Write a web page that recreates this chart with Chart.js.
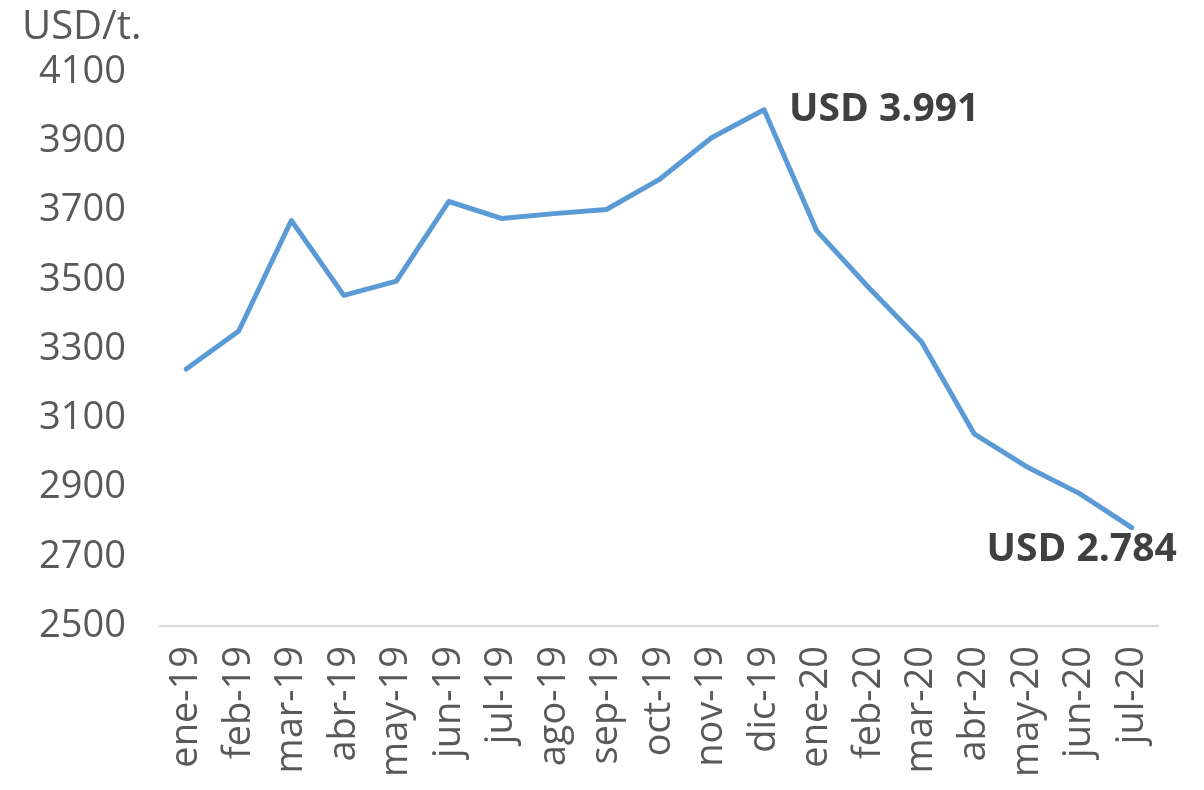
<!DOCTYPE html>
<html>
<head>
<meta charset="utf-8">
<script src="https://cdn.jsdelivr.net/npm/chart.js@4/dist/chart.umd.min.js"></script>
<style>
html,body{margin:0;padding:0;background:#fff;}
#c{display:block;}
</style>
</head>
<body>
<canvas id="c" width="1204" height="790"></canvas>
<script>
const categories = ["ene-19","feb-19","mar-19","abr-19","may-19","jun-19","jul-19","ago-19","sep-19","oct-19","nov-19","dic-19","ene-20","feb-20","mar-20","abr-20","may-20","jun-20","jul-20"];
const prices = [3242,3352,3671,3455,3496,3726,3677,3691,3703,3789,3910,3991,3642,3476,3320,3055,2960,2883,2784];
const yTicks = [2500,2700,2900,3100,3300,3500,3700,3900,4100];
const unitLabel = "USD/t.";
const annotations = [
  {index: 11, text: "USD 3.991", dx: 25, dy: 0, align: "left"},
  {index: 18, text: "USD 2.784", dx: 45, dy: 22, align: "right"}
];

const FONT = "'Open Sans', sans-serif";

const labelPlugin = {
  id: 'labels',
  afterDraw(chart) {
    const ctx = chart.ctx;
    const x = chart.scales.x, y = chart.scales.y;
    ctx.save();
    ctx.fillStyle = '#595959';
    ctx.font = "40px " + FONT;
    ctx.textAlign = 'left';
    ctx.textBaseline = 'alphabetic';
    ctx.fillText(unitLabel, 22, 39);
    ctx.fillStyle = '#404040';
    ctx.font = "bold 39px " + FONT;
    ctx.textBaseline = 'middle';
    annotations.forEach(a => {
      const px = x.getPixelForValue(a.index);
      const py = y.getPixelForValue(prices[a.index]);
      ctx.textAlign = a.align;
      ctx.fillText(a.text, px + a.dx, py + a.dy);
    });
    ctx.restore();
  }
};

new Chart(document.getElementById('c'), {
  type: 'line',
  data: {
    labels: categories,
    datasets: [{
      data: prices,
      borderColor: '#5B9BD5',
      borderWidth: 5,
      pointRadius: 0,
      tension: 0,
      borderCapStyle: 'round',
      borderJoinStyle: 'round',
      fill: false
    }]
  },
  options: {
    responsive: false,
    animation: false,
    layout: {padding: {top: 72, right: 46, left: 0, bottom: 0}},
    plugins: {legend: {display: false}, tooltip: {enabled: false}, title: {display: false}},
    scales: {
      x: {
        offset: true,
        grid: {display: false, drawTicks: false},
        border: {display: true, color: '#d9d9d9', width: 2},
        ticks: {color: '#595959', font: {family: FONT, size: 38}, minRotation: 90, maxRotation: 90, padding: 20, autoSkip: false},
        afterFit(s) { s.height = 164; }
      },
      y: {
        min: 2500, max: 4100,
        afterBuildTicks(s) { s.ticks = yTicks.map(v => ({value: v})); },
        grid: {display: false, drawTicks: false},
        border: {display: false},
        ticks: {color: '#595959', font: {family: FONT, size: 38}, padding: 34, callback: v => String(v)},
        afterFit(s) { s.width = 160; }
      }
    }
  },
  plugins: [labelPlugin]
});
</script>
</body>
</html>
